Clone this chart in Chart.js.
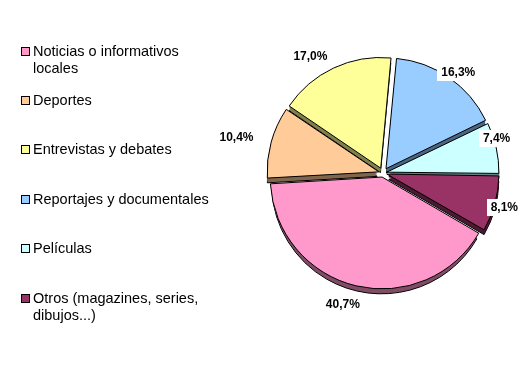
<!DOCTYPE html>
<html>
<head>
<meta charset="utf-8">
<script src="https://cdn.jsdelivr.net/npm/chart.js@4/dist/chart.umd.min.js"></script>
<style>
  body { margin: 0; background: #fff; }
  #wrap { position: relative; width: 530px; height: 365px; }
  #myChart { position: absolute; left: 0; top: 0; }
  .item { position: absolute; left: 21px; width: 200px;
          font: 14.5px "Liberation Sans", Arial, sans-serif; line-height: 17px; color: #000; }
  .item span.box { position: absolute; left: 0; top: 4px; width: 7px; height: 7px; border: 1px solid #000; }
  .item span.txt { display: block; margin-left: 12px; width: 182px; }
</style>
</head>
<body>
<div id="wrap">
  <canvas id="myChart" width="530" height="365"></canvas>
  <div id="legend"></div>
</div>
<script>
// data
const categories = ['Noticias o informativos locales', 'Deportes', 'Entrevistas y debates',
  'Reportajes y documentales', 'Películas', 'Otros (magazines, series, dibujos...)'];
const shares = [40.7, 10.4, 17.0, 16.3, 7.4, 8.1];
const shareLabels = ['40,7%', '10,4%', '17,0%', '16,3%', '7,4%', '8,1%'];

const faceColors = ['#FF99CC', '#FFCC99', '#FFFF99', '#99CCFF', '#CCFFFF', '#993366'];
const sideColors = ['#804D66', '#80664D', '#80804D', '#4D6680', '#668080', '#4D1A33'];

const SHIFT = 6;   // visible explode distance
const DEPTH = 5;   // 3d thickness

// label placement: angle nudge (deg) and distance from centre
const labelNudge = [3.7, -1.4, -6.5, 1.9, -4.8, 0.2];
const labelDist = [137, 151, 138, 126, 119, 126];

// chart.js v4 moves an arc by offset/4 * (1 + fix), undo that so every slice moves SHIFT px
function offsetFor(ctx) {
  const total = shares.reduce((a, b) => a + b, 0);
  const circ = shares[ctx.dataIndex] / total * Math.PI * 2;
  const fix = 1 - Math.sin(Math.min(Math.PI, circ));
  return SHIFT * 4 / (1 + fix);
}

function sliceCentre(arc) {
  const p = arc.getProps(['x', 'y', 'startAngle', 'endAngle', 'outerRadius'], true);
  const mid = (p.startAngle + p.endAngle) / 2;
  return { cx: p.x + Math.cos(mid) * SHIFT, cy: p.y + Math.sin(mid) * SHIFT, p: p, mid: mid };
}

const depthPlugin = {
  id: 'depth',
  beforeDatasetsDraw(chart) {
    const ctx = chart.ctx;
    const meta = chart.getDatasetMeta(0);
    meta.data.forEach((arc, i) => {
      const s = sliceCentre(arc);
      ctx.save();
      ctx.fillStyle = sideColors[i];
      ctx.strokeStyle = '#000';
      ctx.lineWidth = 1;
      for (let d = DEPTH; d >= 1; d--) {
        ctx.beginPath();
        ctx.moveTo(s.cx, s.cy + d);
        ctx.arc(s.cx, s.cy + d, s.p.outerRadius, s.p.startAngle, s.p.endAngle);
        ctx.closePath();
        ctx.fill();
        if (d === DEPTH) ctx.stroke();
      }
      ctx.restore();
    });
  }
};

const labelPlugin = {
  id: 'pctLabels',
  afterDatasetsDraw(chart) {
    const ctx = chart.ctx;
    const meta = chart.getDatasetMeta(0);
    ctx.save();
    ctx.font = 'bold 12px "Liberation Sans", Arial, sans-serif';
    ctx.textAlign = 'center';
    ctx.textBaseline = 'middle';
    meta.data.forEach((arc, i) => {
      const p = arc.getProps(['x', 'y', 'startAngle', 'endAngle'], true);
      const a = (p.startAngle + p.endAngle) / 2 + labelNudge[i] * Math.PI / 180;
      const x = p.x + Math.cos(a) * labelDist[i];
      const y = p.y + Math.sin(a) * labelDist[i];
      const w = ctx.measureText(shareLabels[i]).width;
      ctx.fillStyle = '#fff';
      ctx.fillRect(Math.round(x - w / 2 - 4), Math.round(y - 8), Math.round(w + 8), 17);
      ctx.fillStyle = '#000';
      ctx.fillText(shareLabels[i], x, y + 1);
    });
    ctx.restore();
  }
};

const config = {
  type: 'pie',
  data: {
    labels: categories,
    datasets: [{
      data: shares,
      backgroundColor: faceColors,
      borderColor: '#000',
      borderWidth: 1,
      offset: offsetFor
    }]
  },
  options: {
    responsive: false,
    animation: false,
    rotation: 120,
    radius: 110,
    layout: { padding: { left: 240, right: 4, top: 20, bottom: 39 } },
    plugins: {
      legend: { display: false },
      tooltip: { enabled: false }
    }
  },
  plugins: [depthPlugin, labelPlugin]
};

// legend built from the categories
const legend = document.getElementById('legend');
categories.forEach((name, i) => {
  const div = document.createElement('div');
  div.className = 'item';
  div.style.top = (42.5 + i * 49.4) + 'px';
  div.innerHTML = '<span class="box" style="background:' + faceColors[i] + '"></span><span class="txt">' + name + '</span>';
  legend.appendChild(div);
});

window.onload = function() {
  const ctx = document.getElementById('myChart').getContext('2d');
  new Chart(ctx, config);
};
</script>
</body>
</html>
